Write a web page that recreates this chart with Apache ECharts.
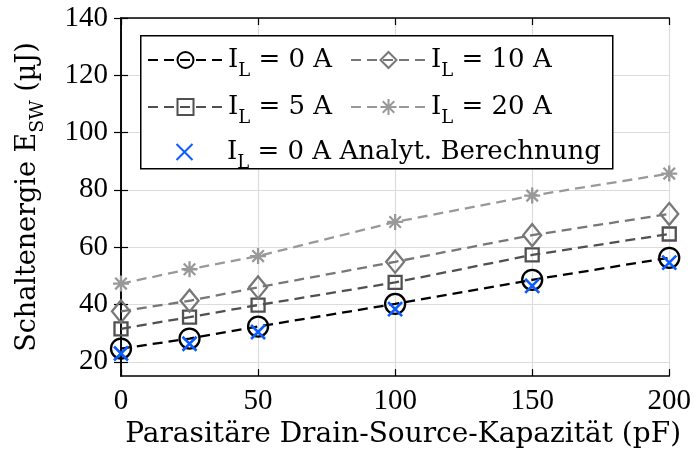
<!DOCTYPE html>
<html>
<head>
<meta charset="utf-8">
<script src="https://cdn.jsdelivr.net/npm/echarts@6/dist/echarts.min.js"></script>
<style>html,body{margin:0;padding:0;background:#fff}#c{width:694px;height:454px}</style>
</head>
<body>
<div id="c"></div>
<script>
// ---- data ----
var capacitance = [0, 25, 50, 100, 150, 200];
var e0  = [24.6, 28.1, 32.3, 40.2, 48.6, 56.3];
var e5  = [31.5, 35.6, 39.8, 47.7, 57.3, 64.6];
var e10 = [37.6, 41.3, 46.0, 54.9, 64.2, 71.6];
var e20 = [47.3, 52.3, 56.9, 68.8, 78.0, 85.7];
var eAna = [22.9, 26.3, 30.4, 38.4, 46.5, 54.6];
var yTicks = [20, 40, 60, 80, 100, 120, 140];
var legendNames = {
  s0: '{n|I}{s|L}{n| = 0 A}',
  s5: '{n|I}{s|L}{n| = 5 A}',
  s10: '{n|I}{s|L}{n| = 10 A}',
  s20: '{n|I}{s|L}{n| = 20 A}',
  ana: '{n|I}{s|L}{n| = 0 A Analyt. Berechnung}'
};

function pairs(ys) { return capacitance.map(function (x, i) { return [x, ys[i]]; }); }

var FONT = 'Liberation Serif';
var NFONT = 'DejaVu Serif';
var FS = 29;
var LFS = 26;
var NFS = 27;
var richLegend = {
  n: { fontFamily: NFONT, fontSize: LFS, color: '#000', lineHeight: 30 },
  s: { fontFamily: NFONT, fontSize: 18, color: '#000', padding: [22, 0, 0, 0], lineHeight: 30 }
};
var richName = {
  n: { fontFamily: NFONT, fontSize: NFS, color: '#000', lineHeight: 30 },
  s: { fontFamily: NFONT, fontSize: 19, color: '#000', padding: [20, 0, 0, 0], lineHeight: 30 }
};
var dash = [10, 6];
var starPath = 'path://M0,-1L0,1M-1,0L1,0M-0.72,-0.72L0.72,0.72M-0.72,0.72L0.72,-0.72';
var xPath = 'path://M-1,-1L1,1M-1,1L1,-1';

function lineSeries(name, ys, color, symbol, size) {
  return {
    name: name, type: 'line', data: pairs(ys), symbol: symbol, symbolSize: size,
    lineStyle: { color: color, width: 2.3, type: dash },
    itemStyle: { color: 'rgba(0,0,0,0)', borderColor: color, borderWidth: 2.3 },
    emphasis: { disabled: true }, animation: false, z: 3
  };
}

var series = [
  lineSeries('s0', e0, '#000000', 'circle', 20),
  lineSeries('s5', e5, '#505050', 'rect', 13),
  lineSeries('s10', e10, '#777777', 'diamond', [18, 22]),
  lineSeries('s20', e20, '#999999', starPath, 16),
  {
    name: 'ana', type: 'line', data: pairs(eAna), symbol: xPath, symbolSize: 14,
    lineStyle: { width: 0, opacity: 0 },
    itemStyle: { color: 'rgba(0,0,0,0)', borderColor: '#0a5cff', borderWidth: 2.6 },
    emphasis: { disabled: true }, animation: false, z: 4
  }
];

function legendAt(name, left, top) {
  return {
    data: [name], left: left, top: top, padding: 0, itemWidth: 75, itemHeight: 20,
    selectedMode: false, z: 20,
    formatter: function (n) { return legendNames[n]; },
    textStyle: { rich: richLegend }
  };
}

var axisLabelStyle = { fontFamily: FONT, fontSize: FS, color: '#000' };
var nameStyle = { fontFamily: NFONT, fontSize: NFS + 1, color: '#000', padding: [0, 0, 0, 16] };

var option = {
  backgroundColor: '#fff',
  animation: false,
  grid: { left: 121, right: 22, top: 18, bottom: 74 },
  xAxis: [{
    type: 'value', min: 0, max: 200, interval: 50,
    axisLine: { lineStyle: { color: '#000', width: 1.5 } },
    axisTick: { inside: true, length: 7, lineStyle: { color: '#000', width: 1.2 } },
    axisLabel: Object.assign({ margin: 11 }, axisLabelStyle),
    splitLine: { show: true, lineStyle: { color: '#dcdcdc', width: 1.2 } },
    name: 'Parasitäre Drain-Source-Kapazität (pF)', nameLocation: 'middle', nameGap: 41,
    nameTextStyle: nameStyle
  }, {
    type: 'value', min: 0, max: 200, interval: 50, position: 'top',
    axisLine: { lineStyle: { color: '#000', width: 1.5 } },
    axisTick: { inside: true, length: 7, lineStyle: { color: '#000', width: 1.2 } },
    axisLabel: { show: false }, splitLine: { show: false }
  }],
  yAxis: [{
    type: 'value', min: 15, max: 140,
    axisLine: { show: true, lineStyle: { color: '#000', width: 1.5 } },
    axisTick: { inside: true, length: 7, customValues: yTicks, lineStyle: { color: '#000', width: 1.2 } },
    axisLabel: Object.assign({ margin: 13, customValues: yTicks }, axisLabelStyle),
    splitLine: { show: true, lineStyle: { color: '#dcdcdc', width: 1.2 } },
    name: '{n|Schaltenergie E}{s|SW}{n| (µJ)}', nameLocation: 'middle', nameGap: 78,
    nameTextStyle: { rich: richName }
  }, {
    type: 'value', min: 15, max: 140, position: 'right',
    axisLine: { show: true, lineStyle: { color: '#000', width: 1.5 } },
    axisTick: { inside: true, length: 7, customValues: yTicks, lineStyle: { color: '#000', width: 1.2 } },
    axisLabel: { show: false }, splitLine: { show: false }
  }],
  graphic: [{
    type: 'rect', left: 140, top: 35, z: 15,
    shape: { width: 472, height: 133 },
    style: { fill: '#fff', stroke: '#000', lineWidth: 1.5 }
  }],
  legend: [
    legendAt('s0', 147, 40),
    legendAt('s10', 350, 40),
    legendAt('s5', 147, 87),
    legendAt('s20', 350, 87),
    legendAt('ana', 147, 132)
  ],
  series: series
};

var chart = echarts.init(document.getElementById('c'), null, { renderer: 'canvas' });
chart.setOption(option);
</script>
</body>
</html>
